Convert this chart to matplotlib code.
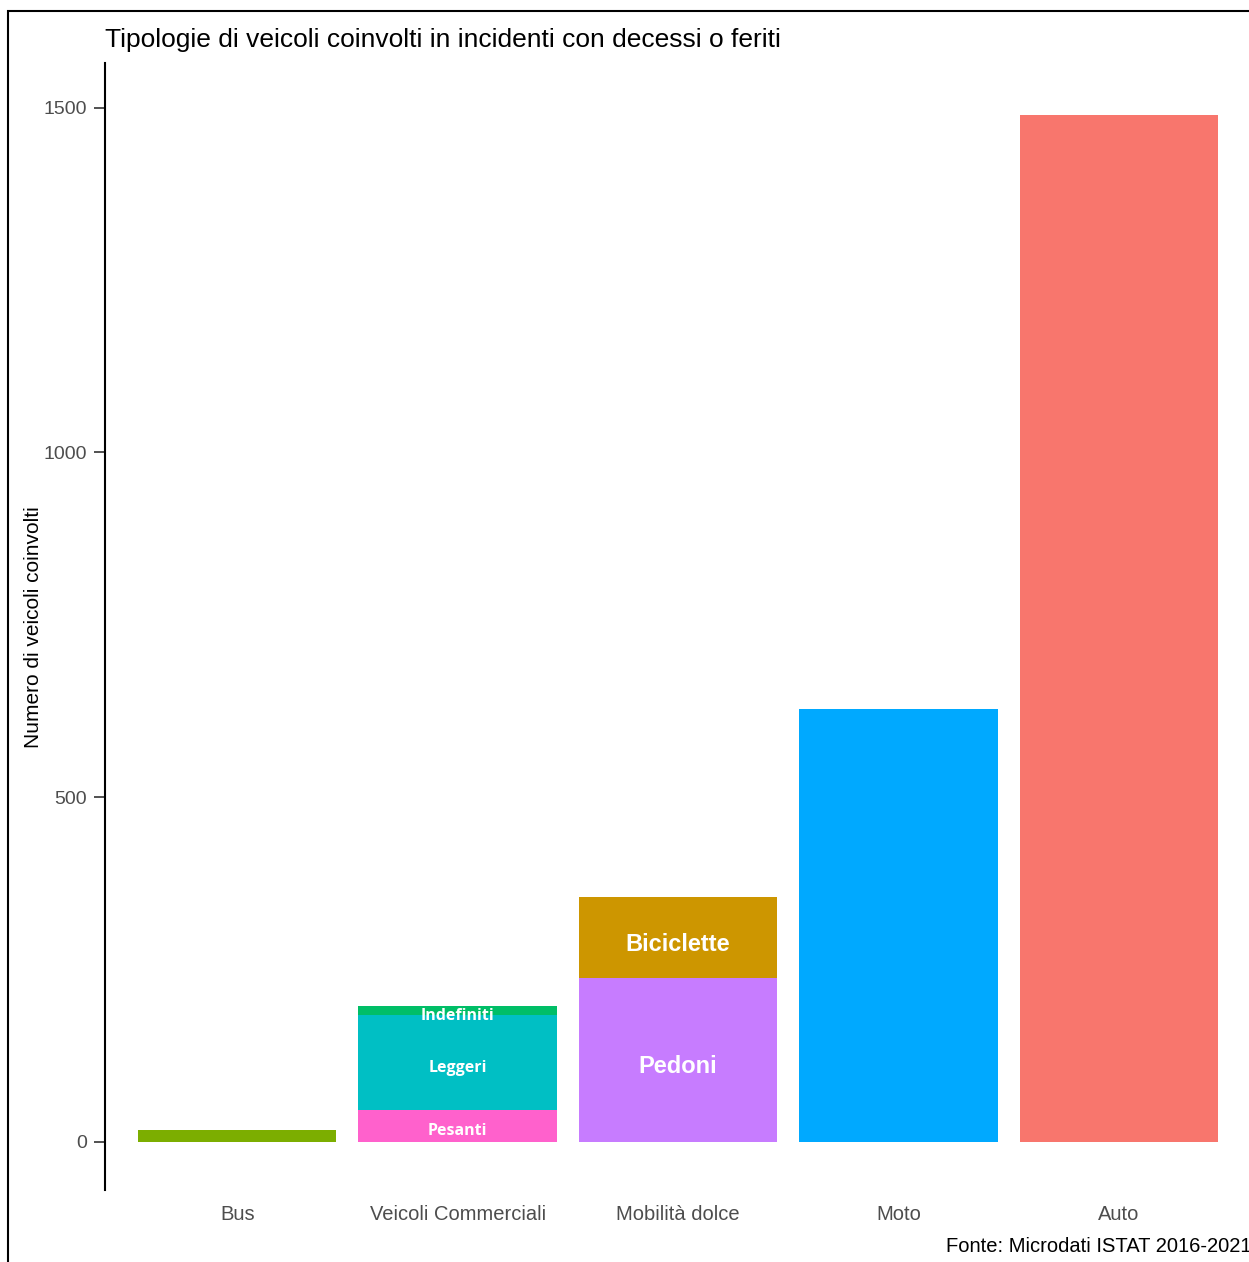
import matplotlib.pyplot as plt
from matplotlib.patches import Rectangle

plt.rcParams['font.family'] = ['Liberation Sans', 'DejaVu Sans']

categories = ['Bus', 'Veicoli Commerciali', 'Mobilità dolce', 'Moto', 'Auto']

# stacked segments: (category, label, value, colour)
bus = 17
pesanti = 46
leggeri = 138
indefiniti = 13
pedoni = 238
biciclette = 117
moto = 628
auto = 1490

segments = [
    ('Bus', '', bus, '#7CAE00'),
    ('Veicoli Commerciali', 'Pesanti', pesanti, '#FF61CC'),
    ('Veicoli Commerciali', 'Leggeri', leggeri, '#00BFC4'),
    ('Veicoli Commerciali', 'Indefiniti', indefiniti, '#00BE67'),
    ('Mobilità dolce', 'Pedoni', pedoni, '#C77CFF'),
    ('Mobilità dolce', 'Biciclette', biciclette, '#CD9600'),
    ('Moto', '', moto, '#00A9FF'),
    ('Auto', '', auto, '#F8766D'),
]
big_labels = ['Pedoni', 'Biciclette']

W, H = 1249, 1262
fig = plt.figure(figsize=(W / 100, H / 100), dpi=100)
ax = fig.add_axes([105 / W, 1 - 1190 / H, (1251 - 105) / W, (1190 - 63) / H])

xpos = {c: i for i, c in enumerate(categories)}
bottoms = {c: 0 for c in categories}
for cat, lab, val, col in segments:
    x = xpos[cat]
    b = bottoms[cat]
    ax.bar(x, val, bottom=b, width=0.9, color=col, linewidth=0)
    if lab:
        if lab in big_labels:
            ax.annotate(lab, (x, b + val / 2), xytext=(0, -3), textcoords='offset points',
                        ha='center', va='center_baseline', color='white',
                        fontsize=17, fontweight='bold')
        else:
            ax.annotate(lab, (x, b + val / 2), xytext=(0, -2.5), textcoords='offset points',
                        ha='center', va='center_baseline', color='white',
                        fontsize=11.5, fontweight='bold', family=['Open Sans', 'DejaVu Sans'])
    bottoms[cat] = b + val

ax.set_xlim(-0.6, len(categories) - 0.4)
ax.set_ylim(-70, 1565)
ax.set_xticks(range(len(categories)))
ax.set_xticklabels(categories)
ax.set_yticks([0, 500, 1000, 1500])
ax.tick_params(axis='x', length=0, pad=11, labelsize=14.5, labelcolor='#4D4D4D')
ax.tick_params(axis='y', length=8, width=1.2, color='#333333', pad=5,
               labelsize=14, labelcolor='#4D4D4D')
for s in ['top', 'right', 'bottom']:
    ax.spines[s].set_visible(False)
ax.spines['left'].set_linewidth(1.5)
ax.set_ylabel('Numero di veicoli coinvolti', fontsize=15)
ax.yaxis.set_label_coords(43 / W, 1 - 627 / H, transform=fig.transFigure)

fig.text(105 / W, 1 - 40 / H, 'Tipologie di veicoli coinvolti in incidenti con decessi o feriti',
         fontsize=19, ha='left', va='center')
fig.text(1251 / W, 1 - 1247 / H, 'Fonte: Microdati ISTAT 2016-2021',
         fontsize=14.5, ha='right', va='center')

# outer frame (cropped on right and bottom)
fig.patches.append(Rectangle((8 / W, -0.1), 1.2, 1 - 11 / H + 0.1, transform=fig.transFigure,
                             fill=False, edgecolor='black', linewidth=1.5))

fig.savefig('out.png', dpi=100)
